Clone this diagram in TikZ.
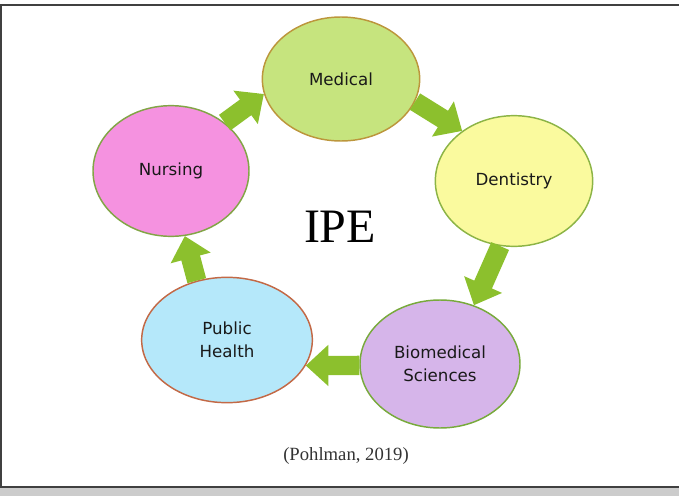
\documentclass[tikz,border=0pt]{standalone}
\usepackage{fontspec}
\setmainfont{Liberation Serif}
\newfontfamily\circlefont{DejaVu Sans}
\usepackage{tikz}
\usetikzlibrary{shapes.geometric,arrows.meta}

\definecolor{medfill}{RGB}{198,228,126}
\definecolor{medline}{RGB}{188,150,60}
\definecolor{dentfill}{RGB}{250,250,158}
\definecolor{dentline}{RGB}{140,180,70}
\definecolor{biofill}{RGB}{214,181,234}
\definecolor{bioline}{RGB}{120,170,60}
\definecolor{pubfill}{RGB}{181,232,250}
\definecolor{publine}{RGB}{195,105,70}
\definecolor{nursfill}{RGB}{245,146,224}
\definecolor{nursline}{RGB}{130,165,70}
\definecolor{flowgreen}{RGB}{140,192,45}

\begin{document}
\begin{tikzpicture}[x=0.75pt,y=-0.75pt]
    \tikzstyle{field} = [ellipse, draw, line width=1.1pt, inner sep=0pt, align=center, text=black!90, font=\circlefont\fontsize{12.5}{17.5}\selectfont]
    \tikzstyle{flow} = [draw=flowgreen, line width=14.5pt, -{Triangle[length=17pt,width=30pt]}]

    \useasboundingbox (0,0) rectangle (679,496);

    % Frame
    \fill[black!20] (0,488) rectangle (679,496);
    \draw[black!75, line width=1.5pt] (0,5) -- (679,5);
    \draw[black!75, line width=1.5pt] (1,5) -- (1,487);
    \draw[black!75, line width=1.5pt] (0,487) -- (679,487);

    % Disciplines
    \node[field, fill=medfill, draw=medline, minimum width=118pt, minimum height=93pt] (med) at (341,79) {Medical};
    \node[field, fill=dentfill, draw=dentline, minimum width=118pt, minimum height=98pt] (dent) at (514,181) {Dentistry};
    \node[field, fill=biofill, draw=bioline, minimum width=120pt, minimum height=96pt] (bio) at (440,364) {Biomedical\\Sciences};
    \node[field, fill=pubfill, draw=publine, minimum width=128pt, minimum height=94pt] (pub) at (227,340) {Public\\Health};
    \node[field, fill=nursfill, draw=nursline, minimum width=117pt, minimum height=98pt] (nurs) at (171,171) {Nursing};

    % Cycle
    \draw[flow] (nurs.42) -- (med.191);
    \draw[flow] (med.343) -- (dent.136);
    \draw[flow] (dent.258) -- (bio.60);
    \draw[flow] (bio.181) -- (pub.342);
    \draw[flow] (pub.117) -- (nurs.282);

    \node[font=\fontsize{36}{40}\selectfont] (ipe) at (340,227) {IPE};
    \node[font=\fontsize{14}{16}\selectfont, text=black!80] (src) at (346,456) {(Pohlman, 2019)};
\end{tikzpicture}
\end{document}
